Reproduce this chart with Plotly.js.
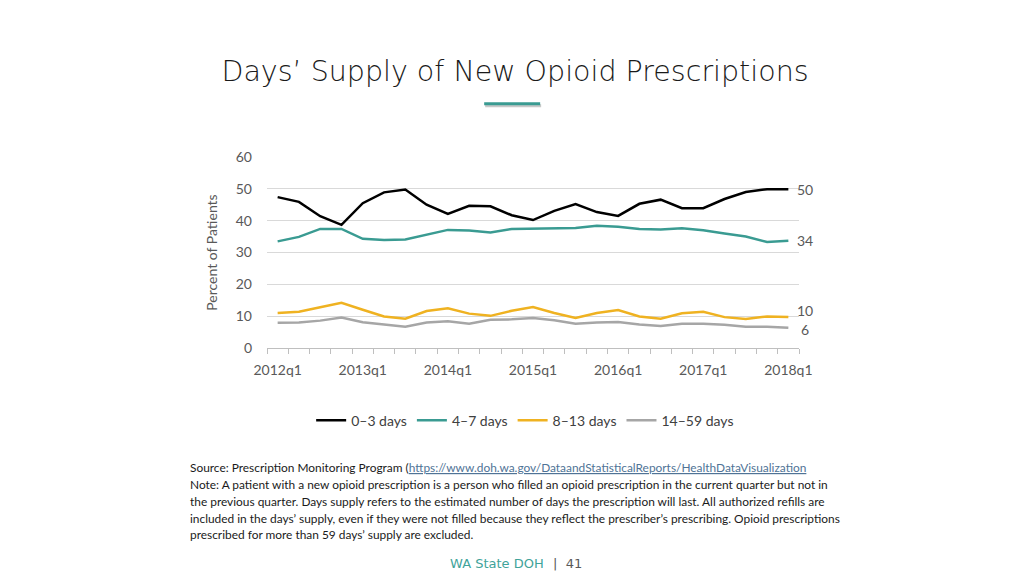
<!DOCTYPE html>
<html>
<head>
<meta charset="utf-8">
<script src="https://cdn.plot.ly/plotly-3.0.1.min.js"></script>
<style>
html,body{margin:0;padding:0;background:#fff;}
#chart{width:1024px;height:576px;}
</style>
</head>
<body>
<div id="chart"></div>
<script>
// ---- data ----
const quarters = ['2012q1','2012q2','2012q3','2012q4','2013q1','2013q2','2013q3','2013q4',
  '2014q1','2014q2','2014q3','2014q4','2015q1','2015q2','2015q3','2015q4',
  '2016q1','2016q2','2016q3','2016q4','2017q1','2017q2','2017q3','2017q4','2018q1'];
const labelQuarters = ['2012q1','2013q1','2014q1','2015q1','2016q1','2017q1','2018q1'];
const seriesNames = ['0\u20133 days','4\u20137 days','8\u201313 days','14\u201359 days'];
const days0to3 = [47.4,45.9,41.4,38.7,45.5,48.9,49.8,45.0,42.1,44.7,44.5,41.7,40.2,
  43.1,45.2,42.7,41.5,45.3,46.6,43.9,43.9,46.8,49.0,49.9,49.9];
const days4to7 = [33.5,34.9,37.4,37.4,34.3,33.9,34.1,35.5,37.1,36.9,36.3,37.4,37.5,
  37.5,37.7,38.4,38.1,37.4,37.2,37.6,37.0,36.0,35.0,33.3,33.7];
const days8to13 = [11.0,11.4,12.8,14.2,12.0,9.9,9.2,11.6,12.5,10.8,10.1,11.7,12.9,
  11.0,9.4,11.0,11.9,9.9,9.2,10.9,11.4,9.7,9.1,9.9,9.7];
const days14to59 = [7.9,8.0,8.6,9.6,8.1,7.3,6.7,8.0,8.4,7.6,8.9,9.0,9.4,
  8.7,7.6,8.0,8.2,7.4,6.9,7.6,7.6,7.3,6.7,6.7,6.4];
const endLabels = ['50','34','10','6'];
const yTicks = [0,10,20,30,40,50,60];

// ---- styles ----
const colors = ['#000000','#3a9b92','#efb221','#a6a6a6'];
const endYShift = [0,0,7,-2];
const bodyFont = 'Lato, "Open Sans", sans-serif';
const allSeries = [days0to3, days4to7, days8to13, days14to59];

const traces = allSeries.map((vals,i)=>({
  type:'scatter', mode:'lines', name:seriesNames[i],
  x:quarters, y:vals,
  line:{color:colors[i], width:2.5},
  hoverinfo:'skip'
}));

// plot area in pixels
const L=266.7, R=799, T=157.3, B=348.3;
const W=1024, H=576;
const px = x => (x-L)/(R-L);
const py = y => (B-y)/(B-T);

const annotations = endLabels.map((t,i)=>({
  x:quarters[quarters.length-1], y:allSeries[i][allSeries[i].length-1],
  xref:'x', yref:'y', text:t, showarrow:false,
  xanchor:'center', yanchor:'middle', xshift:17, yshift:endYShift[i],
  font:{family:bodyFont, size:14, color:'#595959'}
}));

const noteLines = [
  'Source: Prescription Monitoring Program (<a href="https://www.doh.wa.gov/DataandStatisticalReports/HealthDataVisualization"><span style="color:#4f7396;text-decoration:underline">https://www.doh.wa.gov/DataandStatisticalReports/HealthDataVisualization</span></a>',
  'Note: A patient with a new opioid prescription is a person who filled an opioid prescription in the current quarter but not in',
  'the previous quarter. Days supply refers to the estimated number of days the prescription will last. All authorized refills are',
  'included in the days\u2019 supply, even if they were not filled because they reflect the prescriber\u2019s prescribing. Opioid prescriptions',
  'prescribed for more than 59 days\u2019 supply are excluded.'
];
const noteY = [468,485,501.5,518.5,535];
noteLines.forEach((t,i)=>annotations.push({
  xref:'paper', yref:'paper', x:px(188), y:py(noteY[i]),
  xanchor:'left', yanchor:'middle', text:t, showarrow:false, align:'left',
  font:{family:bodyFont, size:11.9, color:'#1a1a1a'}
}));

annotations.push({
  xref:'paper', yref:'paper', x:px(546), y:py(564), xanchor:'right', yanchor:'middle',
  text:'WA State DOH', showarrow:false,
  font:{family:'"DejaVu Sans", sans-serif', size:13, color:'#3fa39a'}
});
annotations.push({
  xref:'paper', yref:'paper', x:px(551), y:py(564), xanchor:'left', yanchor:'middle',
  text:'|  41', showarrow:false,
  font:{family:'"DejaVu Sans", sans-serif', size:13, color:'#595959'}
});

const layout = {
  width:W, height:H,
  margin:{l:L, r:W-R, t:T, b:H-B, pad:0},
  paper_bgcolor:'#ffffff', plot_bgcolor:'#ffffff',
  title:{
    text:'Days\u2019 Supply of New Opioid Prescriptions',
    xref:'container', yref:'container', x:515/W, y:1-71/H,
    xanchor:'center', yanchor:'middle',
    font:{family:'"DejaVu Sans", sans-serif', size:28.5, color:'#1a1a1a', weight:300}
  },
  xaxis:{
    type:'category', range:[-0.5, quarters.length-0.5],
    tickmode:'array', tickvals:quarters,
    ticktext:quarters.map(q=>labelQuarters.includes(q)?q:''),
    tickangle:0, ticklabelstandoff:9,
    tickson:'boundaries', ticks:'outside', ticklen:5, tickcolor:'#bfbfbf', tickwidth:1,
    showline:true, linecolor:'#bfbfbf', linewidth:1,
    showgrid:false, zeroline:false,
    tickfont:{family:bodyFont, size:14, color:'#595959'},
    fixedrange:true
  },
  yaxis:{
    range:[0,60], tickmode:'array', tickvals:yTicks,
    showgrid:true, gridcolor:'#d9d9d9', gridwidth:1,
    zeroline:false, showline:false, ticks:'',
    ticklabelstandoff:14,
    tickfont:{family:bodyFont, size:14, color:'#595959'},
    title:{text:'Percent of Patients', standoff:14, font:{family:bodyFont, size:14, color:'#595959'}},
    fixedrange:true
  },
  showlegend:true,
  legend:{
    orientation:'h', x:px(525), xanchor:'center', y:py(421), yanchor:'middle',
    font:{family:bodyFont, size:14, color:'#404040'},
    itemwidth:30, tracegroupgap:0, bgcolor:'rgba(0,0,0,0)'
  },
  shapes:[
    {type:'line', xref:'paper', yref:'paper', x0:px(485), x1:px(541), y0:py(106), y1:py(106),
     line:{color:'#c8c8c8', width:3}},
    {type:'line', xref:'paper', yref:'paper', x0:px(484), x1:px(540), y0:py(104), y1:py(104),
     line:{color:'#3a9b92', width:3}}
  ],
  annotations:annotations
};

Plotly.newPlot('chart', traces, layout, {displayModeBar:false, staticPlot:true});
</script>
</body>
</html>
